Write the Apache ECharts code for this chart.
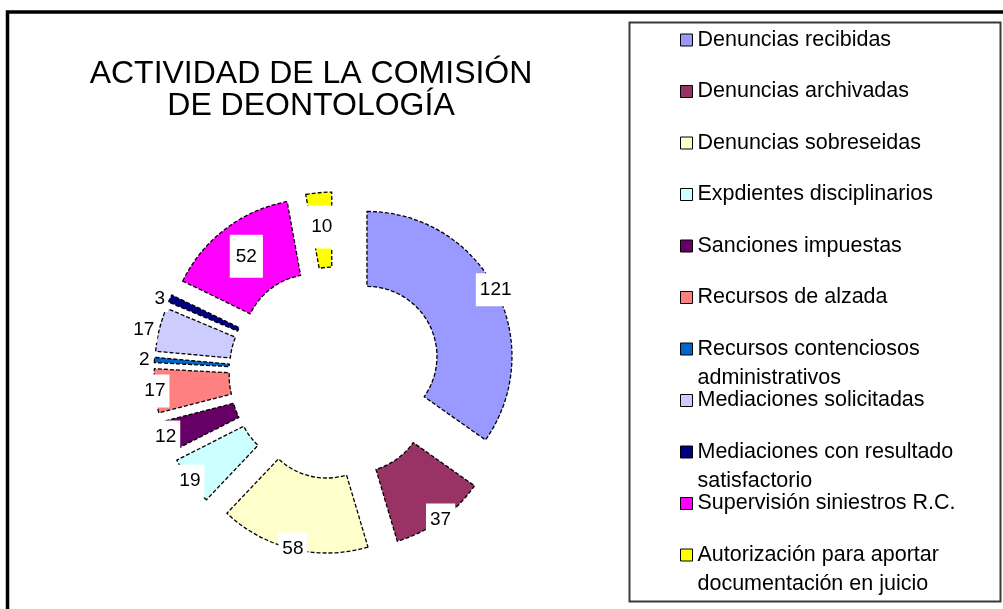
<!DOCTYPE html>
<html>
<head>
<meta charset="utf-8">
<script src="https://cdn.jsdelivr.net/npm/echarts@6/dist/echarts.min.js"></script>
<style>
  html, body { margin: 0; padding: 0; background: #fff; }
  #chart { width: 1003px; height: 609px; }
</style>
</head>
<body>
<div id="chart"></div>
<script>
// ---- data ----
const titleText = 'ACTIVIDAD DE LA COMISIÓN\nDE DEONTOLOGÍA';
const categories = [
  'Denuncias recibidas',
  'Denuncias archivadas',
  'Denuncias sobreseidas',
  'Expdientes disciplinarios',
  'Sanciones impuestas',
  'Recursos de alzada',
  'Recursos contenciosos administrativos',
  'Mediaciones solicitadas',
  'Mediaciones con resultado satisfactorio',
  'Supervisión siniestros R.C.',
  'Autorización para aportar documentación en juicio'
];
const values = [121, 37, 58, 19, 12, 17, 2, 17, 3, 52, 10];
const colors = ['#9999FF', '#993366', '#FFFFCC', '#CCFFFF', '#660066', '#FF8080',
                '#0066CC', '#CCCCFF', '#000080', '#FF00FF', '#FFFF00'];
// categories whose value label sits in the middle of the ring
const innerLabelCats = ['Supervisión siniestros R.C.', 'Autorización para aportar documentación en juicio'];
// thin slices whose label sits just outside the ring
const outerLabelCats = ['Recursos contenciosos administrativos', 'Mediaciones solicitadas',
                        'Mediaciones con resultado satisfactorio'];

// ---- styling helpers ----
const FONT = '"Liberation Sans", Arial, sans-serif';
const CENTER = [335, 373];
const OFFSET = 36;

function wrapName(name) {
  if (name.length <= 28) return [name];
  const cut = name.lastIndexOf(' ', 26);
  return [name.slice(0, cut), name.slice(cut + 1)];
}

const mainData = categories.map((name, i) => {
  const isInner = innerLabelCats.indexOf(name) >= 0;
  const isOuter = outerLabelCats.indexOf(name) >= 0;
  const item = {
    name: name,
    value: values[i],
    selected: true,
    itemStyle: { color: colors[i] },
    label: { show: isInner || isOuter }
  };
  if (isOuter) {
    item.label = { show: true, position: 'outside', distanceToLabelLine: 2, padding: [4, 3] };
    item.labelLine = { show: false, length: 0, length2: 0 };
  }
  return item;
});
const labelData = categories.map((name, i) => ({
  name: name,
  value: values[i],
  selected: true,
  label: { show: innerLabelCats.indexOf(name) < 0 && outerLabelCats.indexOf(name) < 0 }
}));

// one legend per item so rows keep a regular pitch
const LEG_TOP = 40, LEG_STEP = 51.5, LH1 = 24, LH2 = 29;
const legends = categories.map((name, i) => {
  const lines = wrapName(name);
  const multi = lines.length > 1;
  const cy = LEG_TOP + i * LEG_STEP;
  return {
    data: [name],
    orient: 'vertical',
    left: 680,
    top: multi ? cy - (LH2 * 3) / 2 : cy - LH1 / 2,
    padding: 0,
    itemWidth: 12,
    itemHeight: 12,
    icon: 'rect',
    selectedMode: false,
    itemStyle: { borderColor: '#000', borderWidth: 1, borderType: 'solid' },
    // a leading empty line keeps the first text line level with the marker
    formatter: n => { const l = wrapName(n); return l.length > 1 ? '\n' + l.join('\n') : l[0]; },
    textStyle: {
      fontFamily: FONT, fontSize: 21.5, color: '#000',
      lineHeight: multi ? LH2 : LH1
    }
  };
});

const chart = echarts.init(document.getElementById('chart'), null, { renderer: 'canvas' });
chart.setOption({
  animation: false,
  backgroundColor: '#ffffff',
  title: {
    text: titleText,
    left: 311,
    top: 58,
    padding: 0,
    textAlign: 'center',
    textStyle: { fontFamily: FONT, fontSize: 32, fontWeight: 'normal', color: '#000', lineHeight: 32 }
  },
  legend: legends,
  graphic: [
    { type: 'rect', silent: true, z: 0,
      shape: { x: 7.5, y: 12, width: 1100, height: 700 },
      style: { fill: 'none', stroke: '#000', lineWidth: 3.5 } },
    { type: 'rect', silent: true, z: 0,
      shape: { x: 629.5, y: 22.5, width: 371, height: 579 },
      style: { fill: 'none', stroke: '#3a3a3a', lineWidth: 2 } }
  ],
  series: [
    {
      type: 'pie',
      name: 'main',
      center: CENTER,
      radius: [70, 145],
      startAngle: 90,
      clockwise: true,
      selectedMode: 'multiple',
      selectedOffset: OFFSET,
      avoidLabelOverlap: false,
      labelLayout: { hideOverlap: false },
      silent: true,
      z: 4,
      itemStyle: { borderColor: '#000', borderWidth: 1.3, borderType: [4, 2] },
      select: { itemStyle: { borderColor: '#000', borderWidth: 1.3 } },
      label: {
        position: 'inside',
        formatter: '{c}',
        fontFamily: FONT, fontSize: 19, color: '#000',
        backgroundColor: '#fff', padding: [12, 6]
      },
      labelLine: { show: false },
      data: mainData
    },
    {
      type: 'pie',
      name: 'labels',
      center: CENTER,
      radius: [124, 160],
      startAngle: 90,
      clockwise: true,
      selectedMode: 'multiple',
      selectedOffset: OFFSET,
      avoidLabelOverlap: false,
      labelLayout: { hideOverlap: false },
      silent: true,
      z: 5,
      itemStyle: { color: 'rgba(0,0,0,0)', borderWidth: 0 },
      select: { itemStyle: { color: 'rgba(0,0,0,0)', borderWidth: 0 } },
      label: {
        position: 'inside',
        formatter: '{c}',
        fontFamily: FONT, fontSize: 19, color: '#000',
        backgroundColor: '#fff', padding: [7, 4]
      },
      labelLine: { show: false },
      data: labelData
    }
  ]
});
</script>
</body>
</html>
